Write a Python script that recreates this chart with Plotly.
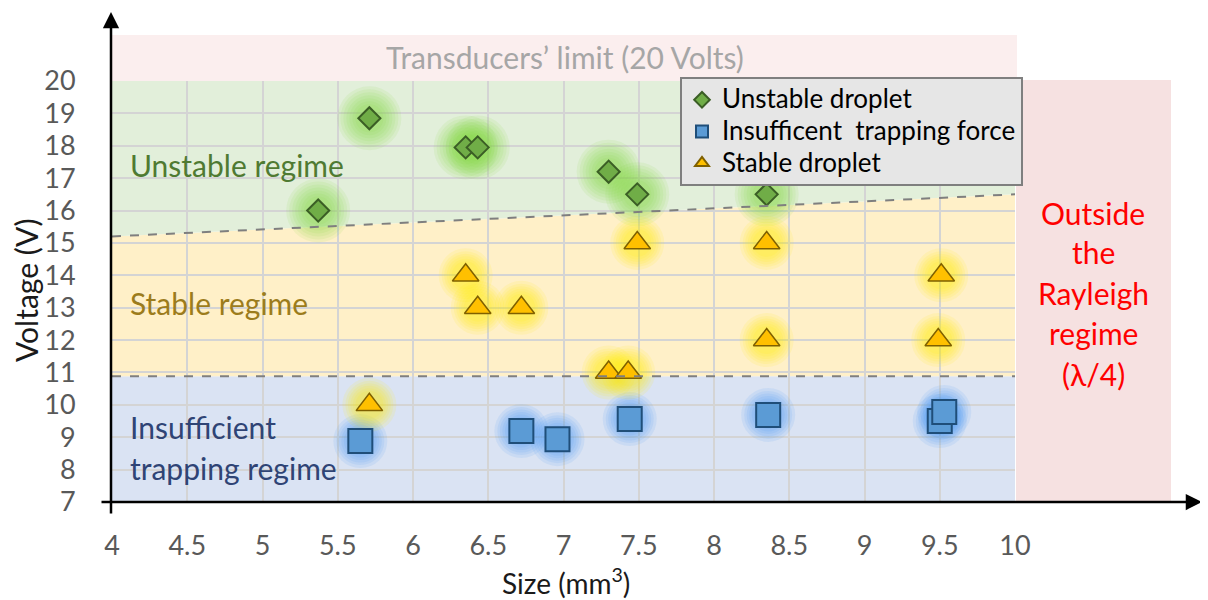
import plotly.graph_objects as go

# ---------------- data ----------------
x_ticks = [4, 4.5, 5, 5.5, 6, 6.5, 7, 7.5, 8, 8.5, 9, 9.5, 10]
x_tick_labels = ["4", "4.5", "5", "5.5", "6", "6.5", "7", "7.5", "8", "8.5", "9", "9.5", "10"]
y_ticks = list(range(7, 21))

unstable_x = [5.37, 5.71, 6.35, 6.43, 7.30, 7.49, 8.35]
unstable_y = [16.0, 18.85, 17.95, 17.95, 17.2, 16.5, 16.5]

insuff_x = [5.65, 6.72, 6.96, 7.44, 8.36, 9.50, 9.53]
insuff_y = [8.88, 9.19, 8.94, 9.56, 9.69, 9.50, 9.78]

stable_x = [5.71, 6.35, 6.43, 6.72, 7.30, 7.43, 7.49, 8.35, 8.35, 9.49, 9.51]
stable_y = [10.0, 14.0, 13.0, 13.0, 11.0, 11.0, 15.0, 15.0, 12.0, 12.0, 14.0]

series_names = ["Unstable droplet", "Insufficent\u00a0 trapping force", "Stable droplet"]

boundary_x = [4, 10]
unstable_boundary_y = [15.2, 16.5]
trapping_limit_y = 10.88
voltage_limit = 20
voltage_min = 7

# ---------------- layout geometry (window pixels; page body has an 8px margin) ----------------
OFF = 8
W, H = 1200, 592
L, R, T, B = 112, 1015, 81, 502  # plot area in window pixels
PW, PH = R - L, B - T


def px(xp):
    return (xp - L) / PW


def py(yp):
    return (B - yp) / PH


FONT = "Lato"
LEG_TXT = '<span style="font-size:26px">{}</span>'
fig = go.Figure()

# soft glow traces behind markers
glow = [
    (unstable_x, unstable_y, "rgba(125,215,55,{a})", [64, 58, 52, 46, 40, 34, 28], 0.10),
    (insuff_x, insuff_y, "rgba(60,150,250,{a})", [54, 48, 43, 38, 33, 28], 0.10),
    (stable_x, stable_y, "rgba(255,240,0,{a})", [54, 48, 43, 38, 33, 28], 0.11),
]
for sx, sy, col, sizes, a in glow:
    for s in sizes:
        fig.add_trace(go.Scatter(
            x=sx, y=sy, mode="markers", showlegend=False, hoverinfo="skip",
            marker=dict(size=s, color=col.format(a=a), line=dict(width=0), symbol="circle"),
        ))

fig.add_trace(go.Scatter(
    x=unstable_x, y=unstable_y, mode="markers", name=LEG_TXT.format(series_names[0]),
    marker=dict(symbol="diamond", size=17, color="#70ad47", line=dict(color="#3b5e25", width=2)),
))
fig.add_trace(go.Scatter(
    x=insuff_x, y=insuff_y, mode="markers", name=LEG_TXT.format(series_names[1]),
    marker=dict(symbol="square", size=24, color="#5b9bd5", line=dict(color="#1f4e79", width=2)),
))
fig.add_trace(go.Scatter(
    x=stable_x, y=stable_y, mode="markers", name=LEG_TXT.format(series_names[2]),
    marker=dict(symbol="triangle-up", size=23, color="#ffc000", line=dict(color="#7f6000", width=1.5)),
))

# ---------------- region shapes ----------------
x0, x1 = boundary_x
b0, b1 = unstable_boundary_y
shapes = []
shapes.append(dict(type="rect", xref="x", yref="y", x0=x0, x1=x1, y0=voltage_min, y1=trapping_limit_y,
                   fillcolor="#dae3f3", line=dict(width=0), layer="below"))
shapes.append(dict(type="path", xref="x", yref="y",
                   path=f"M {x0},{trapping_limit_y} L {x1},{trapping_limit_y} L {x1},{b1} L {x0},{b0} Z",
                   fillcolor="#fff0c8", line=dict(width=0), layer="below"))
shapes.append(dict(type="path", xref="x", yref="y",
                   path=f"M {x0},{b0} L {x1},{b1} L {x1},{voltage_limit} L {x0},{voltage_limit} Z",
                   fillcolor="#e2efda", line=dict(width=0), layer="below"))
shapes.append(dict(type="rect", xref="paper", yref="paper", x0=0, x1=px(1017), y0=1, y1=py(35),
                   fillcolor="#fbeeee", line=dict(width=0), layer="below"))
shapes.append(dict(type="rect", xref="paper", yref="paper", x0=px(1016), x1=px(1171), y0=0, y1=py(80),
                   fillcolor="#f6e1e1", line=dict(width=0), layer="below"))
shapes.append(dict(type="line", xref="x", yref="y", x0=x0, x1=x1, y0=b0, y1=b1,
                   line=dict(color="#7f7f7f", width=2, dash="dash"), layer="above"))
shapes.append(dict(type="line", xref="x", yref="y", x0=x0, x1=x1, y0=trapping_limit_y, y1=trapping_limit_y,
                   line=dict(color="#7f7f7f", width=2, dash="dash"), layer="above"))

annotations = []
# axes with arrows
annotations.append(dict(xref="paper", yref="paper", x=px(111), y=py(12), ax=0, ay=503, text="",
                        showarrow=True, arrowhead=2, arrowsize=1.3, arrowwidth=2.5, arrowcolor="black", standoff=0))
annotations.append(dict(xref="paper", yref="paper", x=px(1202), y=0, ax=-1102, ay=0, text="",
                        showarrow=True, arrowhead=2, arrowsize=1.3, arrowwidth=2.5, arrowcolor="black", standoff=0))

# axis titles
annotations.append(dict(xref="paper", yref="paper", x=px(26), y=py(291), text="Voltage (V)", textangle=-90,
                        showarrow=False, font=dict(family=FONT, size=30, color="#1a1a1a"),
                        xanchor="center", yanchor="middle"))
annotations.append(dict(xref="paper", yref="paper", x=px(566), y=py(581), text="Size (mm<sup>3</sup>)",
                        showarrow=False, font=dict(family=FONT, size=28, color="#1a1a1a"),
                        xanchor="center", yanchor="middle"))

# region labels
annotations.append(dict(xref="paper", yref="paper", x=px(565), y=py(57), text="Transducers\u2019 limit (20 Volts)",
                        showarrow=False, font=dict(family=FONT, size=30, color="#a6a6a6"),
                        xanchor="center", yanchor="middle"))
annotations.append(dict(xref="paper", yref="paper", x=px(128), y=py(165), text="Unstable regime",
                        showarrow=False, font=dict(family=FONT, size=30, color="#4f7a32"),
                        xanchor="left", yanchor="middle"))
annotations.append(dict(xref="paper", yref="paper", x=px(128), y=py(303), text="Stable regime",
                        showarrow=False, font=dict(family=FONT, size=30, color="#9c7c1c"),
                        xanchor="left", yanchor="middle"))
annotations.append(dict(xref="paper", yref="paper", x=px(128), y=py(427), text="Insufficient",
                        showarrow=False, font=dict(family=FONT, size=30, color="#2f4475"),
                        xanchor="left", yanchor="middle"))
annotations.append(dict(xref="paper", yref="paper", x=px(128), y=py(468), text="trapping regime",
                        showarrow=False, font=dict(family=FONT, size=30, color="#2f4475"),
                        xanchor="left", yanchor="middle"))
red_lines = ["Outside", "the", "Rayleigh", "regime", "(\u03bb/4)"]
red_y = [213, 252, 293, 333, 374]
for t, yy in zip(red_lines, red_y):
    annotations.append(dict(xref="paper", yref="paper", x=px(1093), y=py(yy), text=t,
                            showarrow=False, font=dict(family=FONT, size=30, color="#ff0000"),
                            xanchor="center", yanchor="middle"))

fig.update_layout(
    width=W, height=H,
    margin=dict(l=L - OFF, r=W - (R - OFF), t=T - OFF, b=H - (B - OFF)),
    paper_bgcolor="white", plot_bgcolor="white",
    font=dict(family=FONT),
    shapes=shapes, annotations=annotations,
    legend=dict(
        x=px(680), y=py(77), xanchor="left", yanchor="top",
        bgcolor="#e6e6e6", bordercolor="#7f7f7f", borderwidth=2,
        font=dict(family=FONT, size=22, color="black"),
        itemsizing="constant", tracegroupgap=0, itemwidth=30,
    ),
    xaxis=dict(range=[4, 10], tickvals=x_ticks, ticktext=x_tick_labels, showgrid=True,
               gridcolor="#d4d4d4", gridwidth=2, zeroline=False, showline=False,
               ticks="outside", ticklen=20, tickcolor="rgba(0,0,0,0)",
               tickfont=dict(family=FONT, size=27, color="#595959")),
    yaxis=dict(range=[7, 20], tickvals=y_ticks, showgrid=True,
               gridcolor="#d4d4d4", gridwidth=2, zeroline=False, showline=False,
               ticks="outside", ticklen=30, tickcolor="rgba(0,0,0,0)",
               tickfont=dict(family=FONT, size=27, color="#595959")),
)

fig.write_html("out.html")
